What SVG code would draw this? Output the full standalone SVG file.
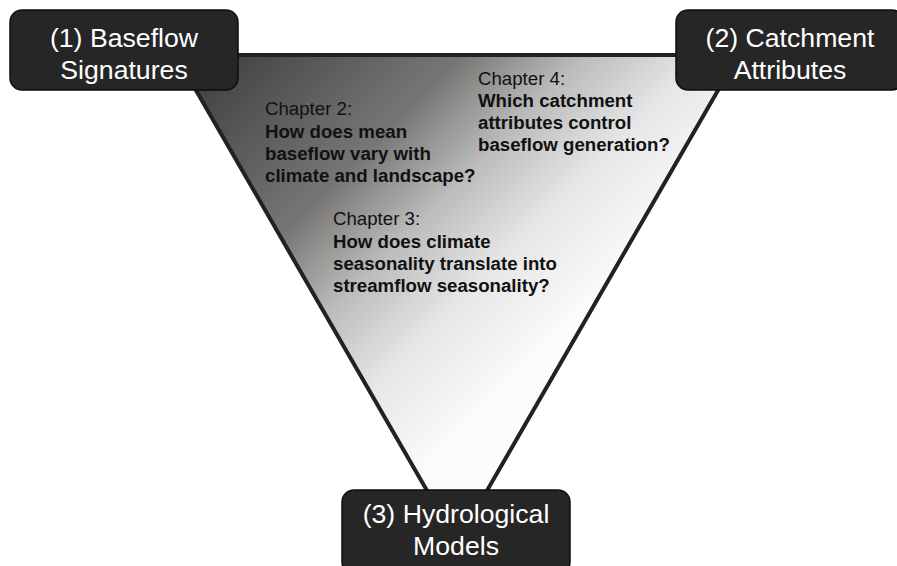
<svg xmlns="http://www.w3.org/2000/svg" width="897" height="566" viewBox="0 0 897 566">
<style>
.box{fill:#262626;stroke:#0d0d0d;stroke-width:1.5}
.bt{font-family:"Liberation Sans",Arial,sans-serif;font-size:26.67px;fill:#ffffff;text-anchor:middle}
.ch{font-family:"Liberation Sans",Arial,sans-serif;font-size:18.67px;fill:#111111}
.q{font-weight:bold}
</style>
<defs>
<linearGradient id="g" gradientUnits="userSpaceOnUse" x1="140" y1="140" x2="450" y2="450">
<stop offset="0" stop-color="#444342"/>
<stop offset="0.387" stop-color="#787776"/>
<stop offset="0.58" stop-color="#bbbbbb"/>
<stop offset="0.774" stop-color="#e6e6e6"/>
<stop offset="1" stop-color="#fcfcfc"/>
</linearGradient>
</defs>
<rect width="897" height="566" fill="#ffffff"/>
<g id="connectors">
<polygon points="175.6,55 738.4,55 457,542.6" fill="url(#g)" stroke="#222222" stroke-width="4" stroke-linejoin="miter"/>
</g>
<g id="chapter2">
<text class="ch" x="265" y="115">Chapter 2:</text>
<text class="ch q" x="265" y="138">How does mean</text>
<text class="ch q" x="265" y="160">baseflow vary with</text>
<text class="ch q" x="265" y="182">climate and landscape?</text>
</g>
<g id="chapter4">
<text class="ch" x="478" y="85">Chapter 4:</text>
<text class="ch q" x="478" y="107">Which catchment</text>
<text class="ch q" x="478" y="129">attributes control</text>
<text class="ch q" x="478" y="151">baseflow generation?</text>
</g>
<g id="chapter3">
<text class="ch" x="333" y="225">Chapter 3:</text>
<text class="ch q" x="333" y="248">How does climate</text>
<text class="ch q" x="333" y="270">seasonality translate into</text>
<text class="ch q" x="333" y="292">streamflow seasonality?</text>
</g>
<g id="node1">
<rect class="box" x="10" y="10" width="228" height="80" rx="12"/>
<text class="bt" x="124" y="47">(1) Baseflow</text>
<text class="bt" x="124" y="79">Signatures</text>
</g>
<g id="node2">
<rect class="box" x="676" y="10" width="228" height="80" rx="12"/>
<text class="bt" x="790" y="47">(2) Catchment</text>
<text class="bt" x="790" y="79">Attributes</text>
</g>
<g id="node3">
<rect class="box" x="342" y="490" width="228" height="84" rx="12"/>
<text class="bt" x="456" y="523">(3) Hydrological</text>
<text class="bt" x="456" y="555">Models</text>
</g>
</svg>
